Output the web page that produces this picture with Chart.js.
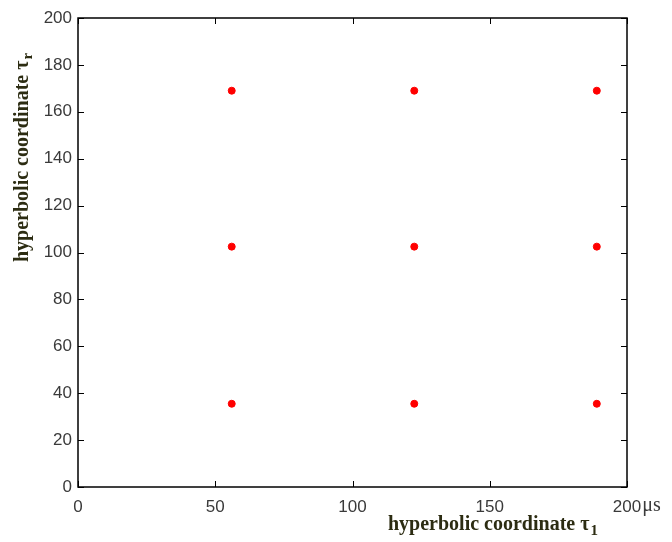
<!DOCTYPE html>
<html>
<head>
<meta charset="utf-8">
<script src="https://cdn.jsdelivr.net/npm/chart.js@4.4.1/dist/chart.umd.min.js"></script>
<style>
html,body{margin:0;padding:0;background:#fff;}
#wrap{width:672px;height:542px;position:relative;}
</style>
</head>
<body>
<div id="wrap"><canvas id="c" width="672" height="542"></canvas></div>
<script>
// Data
const xValues = [56, 122.5, 189, 56, 122.5, 189, 56, 122.5, 189];
const yValues = [35.5, 35.5, 35.5, 102.5, 102.5, 102.5, 169, 169, 169];
const xTicks = [0, 50, 100, 150, 200];
const yTicks = [0, 20, 40, 60, 80, 100, 120, 140, 160, 180, 200];
const xTitle = 'hyperbolic coordinate \u03c4';
const xTitleSub = '1';
const yTitle = 'hyperbolic coordinate \u03c4';
const yTitleSub = 'r';
const xUnit = '\u03bcs';

const points = xValues.map((x, i) => ({x: x, y: yValues[i]}));

const tickFont = '17px "Liberation Sans", Arial, sans-serif';
const tickColor = '#3a3a3a';
const titleColor = '#2c2c12';

const framePlugin = {
  id: 'frame',
  afterDraw(chart) {
    const ctx = chart.ctx;
    const a = chart.chartArea;
    const xs = chart.scales.x, ys = chart.scales.y;
    ctx.save();
    ctx.strokeStyle = '#000';
    ctx.lineWidth = 1.5;
    ctx.strokeRect(a.left, a.top, a.right - a.left, a.bottom - a.top);
    ctx.lineWidth = 1;
    const L = 6;
    ctx.beginPath();
    xTicks.forEach(v => {
      const px = Math.round(xs.getPixelForValue(v)) + 0.5;
      ctx.moveTo(px, a.bottom); ctx.lineTo(px, a.bottom - L);
      ctx.moveTo(px, a.top); ctx.lineTo(px, a.top + L);
    });
    yTicks.forEach(v => {
      const py = Math.round(ys.getPixelForValue(v)) + 0.5;
      ctx.moveTo(a.left, py); ctx.lineTo(a.left + L, py);
      ctx.moveTo(a.right, py); ctx.lineTo(a.right - L, py);
    });
    ctx.stroke();

    // unit after last x tick label
    ctx.font = tickFont;
    const lastLabel = String(xTicks[xTicks.length - 1]);
    const w = ctx.measureText(lastLabel).width;
    const lx = xs.getPixelForValue(xTicks[xTicks.length - 1]) + w / 2;
    ctx.fillStyle = tickColor;
    ctx.textBaseline = 'top';
    ctx.textAlign = 'left';
    ctx.font = '20px "Liberation Serif", "DejaVu Serif", serif';
    ctx.fillText(xUnit, lx + 1, a.bottom + 9);

    // x title
    const tf = 'bold 20px "Liberation Serif", "Times New Roman", serif';
    const sf = 'bold 15px "Liberation Serif", "Times New Roman", serif';
    ctx.fillStyle = titleColor;
    ctx.textBaseline = 'alphabetic';
    ctx.font = tf;
    const tw = ctx.measureText(xTitle).width;
    const tx = a.left + 310;
    const ty = a.bottom + 43;
    ctx.fillText(xTitle, tx, ty);
    ctx.font = sf;
    ctx.fillText(xTitleSub, tx + tw + 1, ty + 5);

    // y title
    ctx.save();
    ctx.translate(28, a.top + 244);
    ctx.rotate(-Math.PI / 2);
    ctx.font = 'bold 20px "Liberation Serif", "Times New Roman", serif';
    const yw = ctx.measureText(yTitle).width;
    ctx.fillText(yTitle, 0, 0);
    ctx.font = 'bold 15px "Liberation Serif", "Times New Roman", serif';
    ctx.fillText(yTitleSub, yw + 1, 4);
    ctx.restore();
    ctx.restore();
  }
};

new Chart(document.getElementById('c'), {
  type: 'scatter',
  data: {
    datasets: [{
      data: points,
      backgroundColor: '#ff0000',
      borderColor: '#ff0000',
      pointStyle: 'circle',
      pointRadius: 3.5,
      pointBorderWidth: 1
    }]
  },
  options: {
    responsive: false,
    animation: false,
    devicePixelRatio: 1,
    layout: { padding: { left: 0, top: 18, right: 45, bottom: 0 } },
    plugins: { legend: { display: false }, tooltip: { enabled: false } },
    scales: {
      x: {
        type: 'linear', min: 0, max: 200,
        afterBuildTicks(s) { s.ticks = xTicks.map(v => ({value: v})); },
        afterFit(s) { s.height = 55; },
        grid: { display: false, drawTicks: false, tickLength: 0 },
        border: { display: false },
        ticks: { font: { family: '"Liberation Sans", Arial, sans-serif', size: 17 }, color: tickColor, padding: 10, maxRotation: 0 }
      },
      y: {
        type: 'linear', min: 0, max: 200,
        afterBuildTicks(s) { s.ticks = yTicks.map(v => ({value: v})); },
        afterFit(s) { s.width = 78; },
        grid: { display: false, drawTicks: false, tickLength: 0 },
        border: { display: false },
        ticks: { font: { family: '"Liberation Sans", Arial, sans-serif', size: 17 }, color: tickColor, padding: 6 }
      }
    }
  },
  plugins: [framePlugin]
});
</script>
</body>
</html>
